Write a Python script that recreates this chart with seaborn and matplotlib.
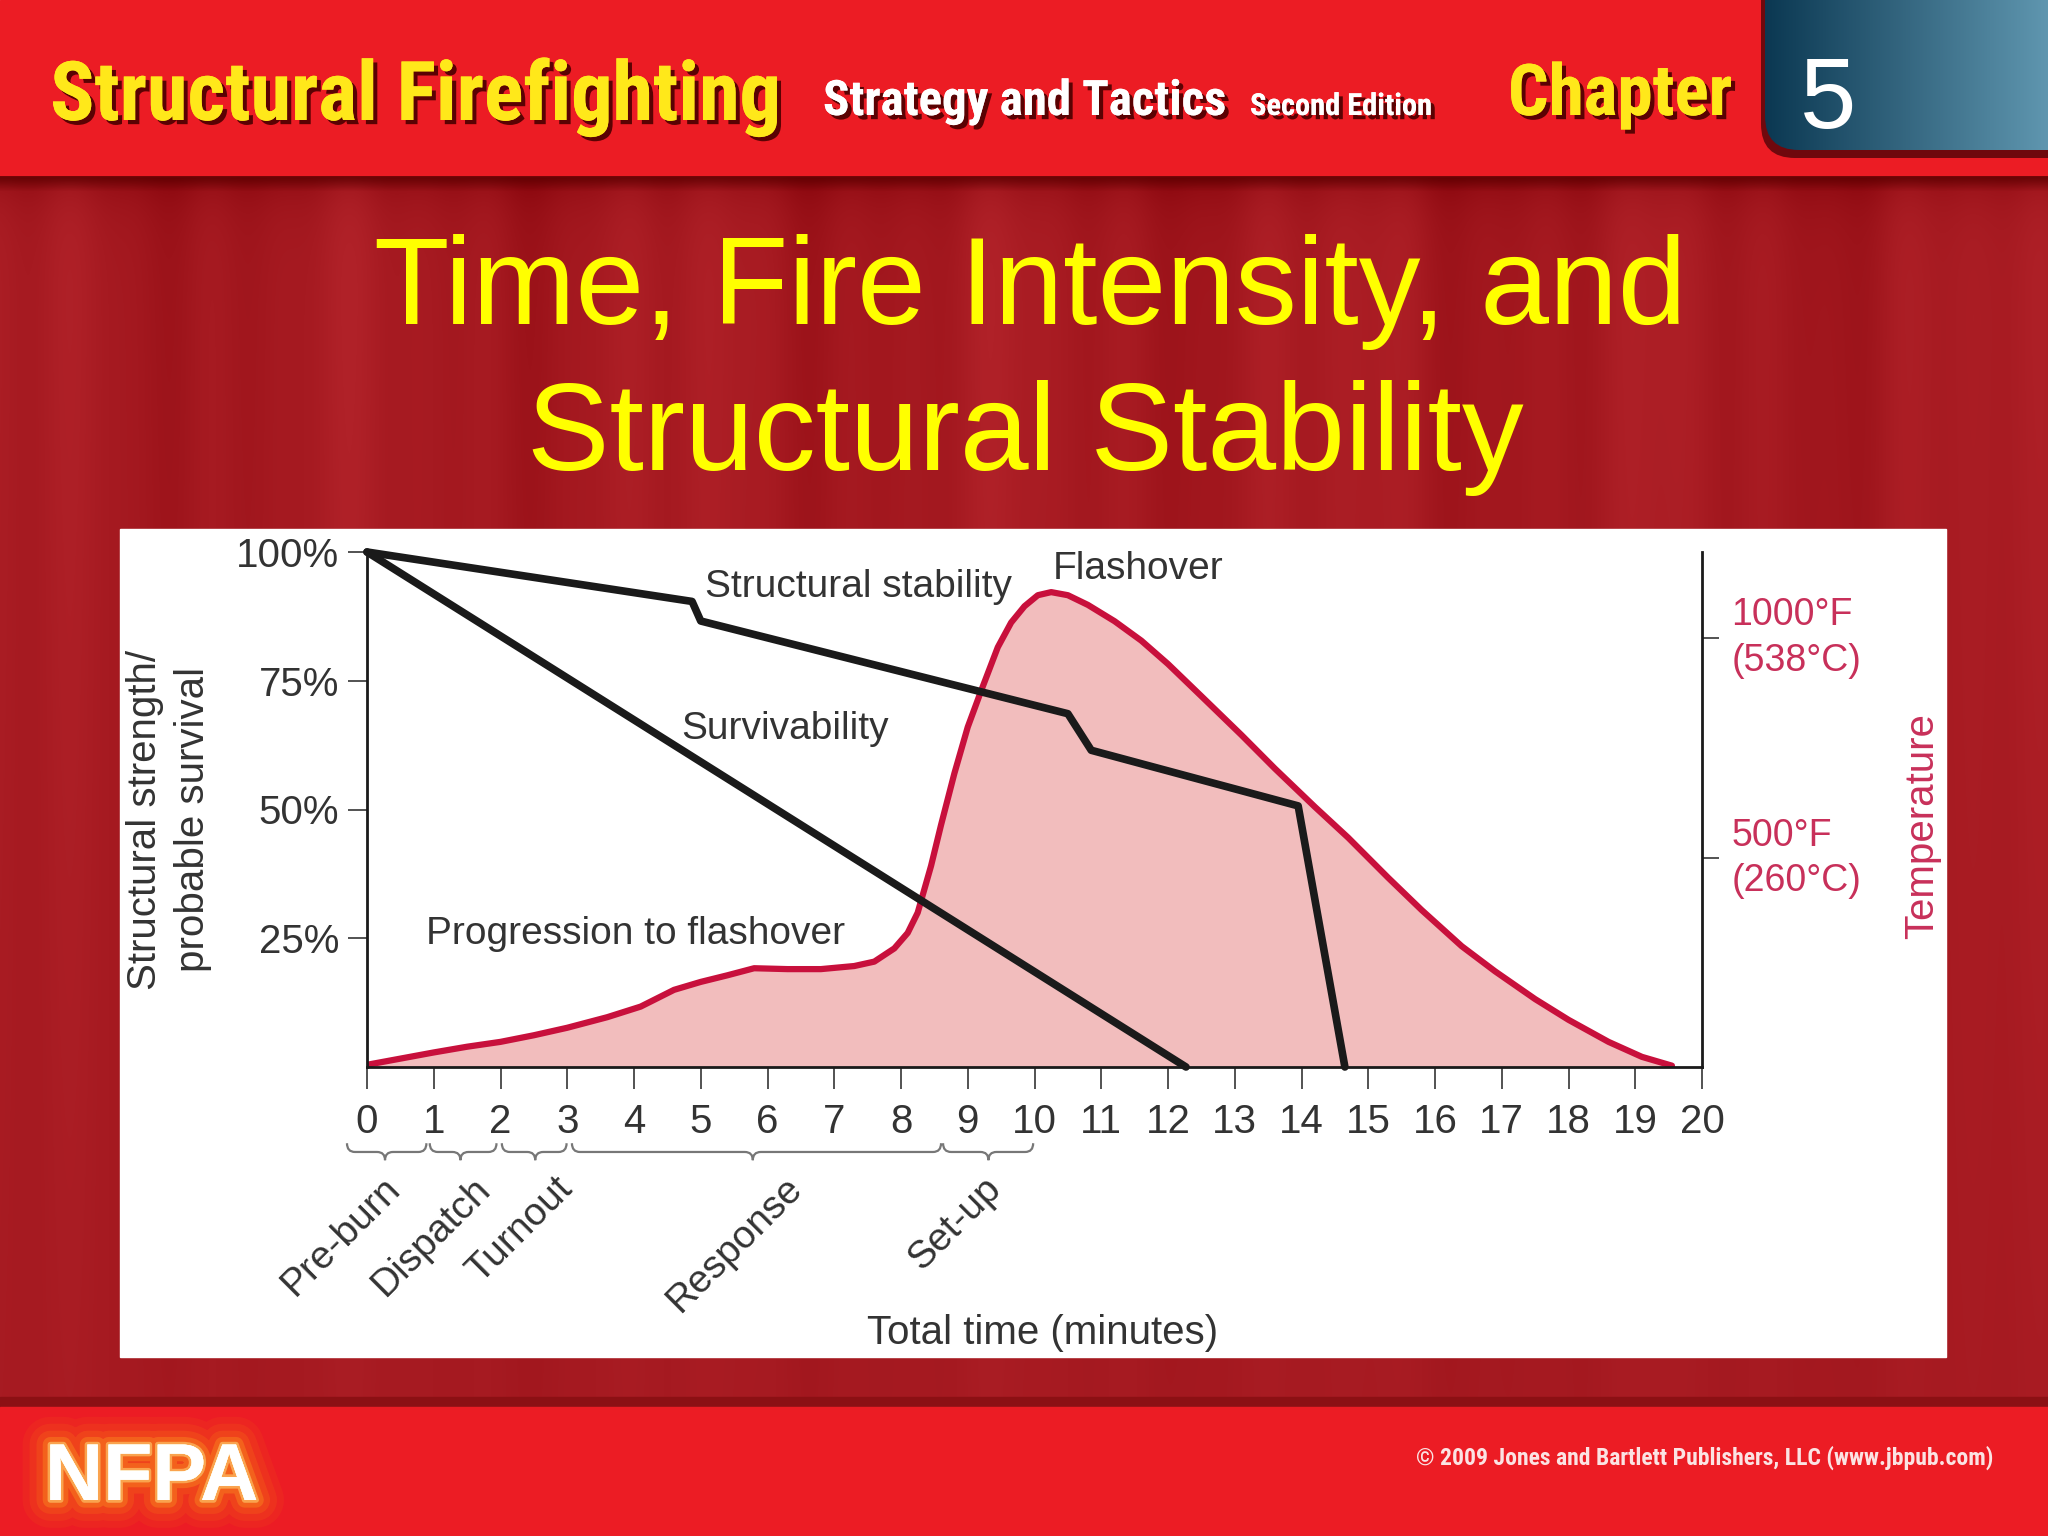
import numpy as np
import matplotlib
matplotlib.use('Agg')
import matplotlib.pyplot as plt
import matplotlib.patheffects as pe
from matplotlib.patches import Rectangle, FancyBboxPatch, PathPatch
from matplotlib.path import Path
from matplotlib.transforms import blended_transform_factory
from matplotlib import font_manager
import seaborn as sns

# ---- data ----
minutes = list(range(0, 21))
pct_ticks = [25, 50, 75, 100]
temp_ticks = [500, 1000]
temp_labels = ['500°F\n(260°C)', '1000°F\n(538°C)']

stability_t = [0, 4.87, 5.0, 10.5, 10.85, 13.95, 14.65]
stability_pct = [100, 90.4, 86.6, 68.6, 61.5, 50.7, 0]

surv_t = [0, 12.27]
surv_pct = [100, 0]

fire_t = [0, 0.5, 1.0, 1.5, 2.0, 2.5, 3.0, 3.6, 4.1, 4.6, 5.0, 5.4, 5.8, 6.3,
          6.8, 7.3, 7.6, 7.9, 8.1, 8.25, 8.45, 8.6, 8.8, 9.0, 9.2, 9.45, 9.65,
          9.85, 10.05, 10.25, 10.5, 10.8, 11.2, 11.6, 12.0, 12.5, 13.1, 13.6,
          14.2, 14.7, 15.3, 15.8, 16.4, 16.9, 17.5, 18.0, 18.6, 19.1, 19.55]
fire_temp_f = [32, 46, 60, 73, 84, 99, 116, 140, 164, 202, 220, 235, 251, 249,
               249, 256, 266, 296, 331, 377, 483, 576, 693, 798, 880, 979, 1035,
               1072, 1097, 1104, 1097, 1075, 1038, 994, 941, 868, 780, 704,
               617, 547, 456, 383, 301, 244, 181, 134, 84, 50, 30]

phase_names = ['Pre-burn', 'Dispatch', 'Turnout', 'Response', 'Set-up']
phase_start = [-0.30, 0.94, 2.02, 3.07, 8.63]
phase_end = [0.89, 1.94, 2.99, 8.60, 9.98]
phase_tip = [0.27, 1.40, 2.52, 5.78, 9.31]
phase_label_x = [0.42, 1.77, 3.00, 6.44, 9.41]

TEMP_MIN, TEMP_MAX = 27, 1195

sns.set_style('white')
plt.rcParams['font.family'] = ['Liberation Sans', 'DejaVu Sans']

names = {f.name for f in font_manager.fontManager.ttflist}
narrow = next((n for n in ['Liberation Sans Narrow', 'Roboto Condensed',
                           'Open Sans Condensed', 'DejaVu Sans Condensed']
               if n in names), 'Liberation Sans')

W, H = 2048, 1536
fig = plt.figure(figsize=(20.48, 15.36), dpi=100)
bg = fig.add_axes([0, 0, 1, 1], zorder=0)
bg.axis('off')

# slide body with curtain-like streaks
xx = np.linspace(0, 1, W)
yy = np.linspace(0, 1, 240)[:, None]
streak = (0.5 * np.sin(2 * np.pi * (xx * 6.3 + 0.15))
          + 0.3 * np.sin(2 * np.pi * (xx * 15.7 + 0.6))
          + 0.2 * np.sin(2 * np.pi * (xx * 29 + 0.3)))
shade = streak[None, :] * (1 - 0.7 * yy) * 12 - 20 * np.exp(-yy / 0.02)
base = np.array([166, 26, 33])
body = np.clip(base + shade[..., None] * np.array([1.0, 0.7, 0.7]), 0, 255) / 255
bg.imshow(body, extent=(0, W, 1400, 176), aspect='auto',
          interpolation='bilinear', zorder=0)

# header band
bg.add_patch(Rectangle((0, 0), W, 176, color='#EC1C24', zorder=1))
sh = np.zeros((16, 1, 4))
sh[..., 0] = 0.35
sh[..., 3] = np.linspace(0.8, 0, 16)[:, None]
bg.imshow(sh, extent=(0, W, 192, 176), aspect='auto', zorder=1)

# chapter box
bg.add_patch(FancyBboxPatch((1761, -60), 400, 218,
                            boxstyle='round,pad=0,rounding_size=34',
                            fc='#3a0004', ec='none', alpha=0.7, zorder=2))
box = FancyBboxPatch((1765, -60), 400, 210,
                     boxstyle='round,pad=0,rounding_size=34',
                     fc='none', ec='none', zorder=3)
bg.add_patch(box)
gx = np.linspace(0, 1, 256)[:, None]
c0 = np.array([11, 56, 82]) / 255
c1 = np.array([95, 150, 175]) / 255
grad = (c0 + (c1 - c0) * gx)[None, :, :]
im = bg.imshow(grad, extent=(1765, W, 150, 0), aspect='auto', zorder=3)
im.set_clip_path(box)

# footer
bg.add_patch(Rectangle((0, 1397), W, 11, color='#8C1014', zorder=1))
bg.add_patch(Rectangle((0, 1407), W, 129, color='#EC1C24', zorder=1))

# white panel behind the chart
bg.add_patch(Rectangle((120, 529), 1826, 828, color='white', zorder=2))

bg.set_xlim(0, W)
bg.set_ylim(H, 0)

renderer = fig.canvas.get_renderer()


def fit(txt, target_w, max_size):
    w = txt.get_window_extent(renderer).width
    txt.set_fontsize(min(max_size, txt.get_fontsize() * target_w / w))


shadow = [pe.withSimplePatchShadow(offset=(3, -3), shadow_rgbFace='#4a0000',
                                   alpha=0.9), pe.Normal()]
hdr = [('Structural Firefighting', 50, 120, 72, 731, '#FFE81A'),
       ('Strategy and Tactics', 823, 115, 47, 403, 'white'),
       ('Second Edition', 1250, 115, 29, 182, 'white'),
       ('Chapter', 1508, 115, 57, 224, '#FFE81A')]
for s, x, y, mx, tw, col in hdr:
    t = bg.text(x, y, s, fontsize=mx, color=col, fontweight='bold',
                family=[narrow, 'DejaVu Sans'], ha='left', va='baseline',
                path_effects=shadow, zorder=5)
    fit(t, tw, mx)

bg.text(1800, 128, '5', fontsize=73, color='white', ha='left', va='baseline',
        zorder=5)

bg.text(1030, 324, 'Time, Fire Intensity, and', fontsize=89, color='#FFFF00',
        ha='center', va='baseline', zorder=5)
bg.text(1025, 470, 'Structural Stability', fontsize=89, color='#FFFF00',
        ha='center', va='baseline', zorder=5)

glow = [pe.withStroke(linewidth=40, foreground='#F46A10', alpha=0.12),
        pe.withStroke(linewidth=30, foreground='#F77F10', alpha=0.14),
        pe.withStroke(linewidth=20, foreground='#FA9412', alpha=0.18),
        pe.withStroke(linewidth=11, foreground='#FDAA20', alpha=0.3),
        pe.withStroke(linewidth=4, foreground='#FFD070', alpha=0.6),
        pe.Normal()]
t = bg.text(45, 1500, 'NFPA', fontsize=57, color='white', fontweight='bold',
            ha='left', va='baseline', path_effects=glow, zorder=5)
fit(t, 213, 60)
t = bg.text(1416, 1465, '© 2009 Jones and Bartlett Publishers, LLC (www.jbpub.com)',
            fontsize=17, color='#FBE3E3', fontweight='bold',
            family=[narrow, 'DejaVu Sans'], ha='left', va='baseline', zorder=5)
fit(t, 582, 17)

# ---- chart ----
ax = fig.add_axes([367 / W, 1 - 1067 / H, 1335 / W, 515 / H])
ax2 = ax.twinx()
ax.set_zorder(3)
ax2.set_zorder(2)
ax.patch.set_visible(False)
ax2.patch.set_visible(False)

ax2.fill_between(fire_t, fire_temp_f, TEMP_MIN, color='#F2BDBD', lw=0, zorder=1)
sns.lineplot(x=fire_t, y=fire_temp_f, ax=ax2, color='#C8103C', lw=4.5,
             sort=False, estimator=None, zorder=2)

sns.lineplot(x=surv_t, y=surv_pct, ax=ax, color='#1a1a1a', lw=5.5,
             sort=False, estimator=None, clip_on=False)
sns.lineplot(x=stability_t, y=stability_pct, ax=ax, color='#1a1a1a', lw=5.5,
             sort=False, estimator=None, clip_on=False)

ax.set_xlim(0, 20)
ax.set_ylim(0, 100)
ax2.set_ylim(TEMP_MIN, TEMP_MAX)

for a in (ax, ax2):
    for sp in a.spines.values():
        sp.set_visible(False)
ax.spines['left'].set_visible(True)
ax.spines['bottom'].set_visible(True)
ax2.spines['right'].set_visible(True)
for sp in (ax.spines['left'], ax.spines['bottom'], ax2.spines['right']):
    sp.set_color('#1a1a1a')
    sp.set_linewidth(2)

ax.set_xticks(minutes)
ax.set_xticklabels([str(m) for m in minutes])
ax.tick_params(axis='x', direction='out', length=16, width=1.3, color='#444',
               pad=10, labelsize=29, labelcolor='#333', bottom=True)
ax.set_yticks(pct_ticks)
ax.set_yticklabels([f'{p}%' for p in pct_ticks])
ax.tick_params(axis='y', direction='out', length=14, width=1.3, color='#444',
               pad=6, labelsize=29, labelcolor='#333', left=True)
ax2.set_yticks(temp_ticks)
ax2.set_yticklabels(temp_labels)
ax2.tick_params(axis='y', direction='out', length=12, width=1.3, color='#444',
                pad=9, labelsize=27, labelcolor='#C8305A', right=True)
for lab in ax2.get_yticklabels():
    lab.set_va('center')
    lab.set_linespacing(1.35)

ax.set_ylabel('Structural strength/\nprobable survival', fontsize=29,
              color='#333', linespacing=1.35)
ax.yaxis.set_label_coords(-0.116, 0.48)
ax2.set_ylabel('Temperature', fontsize=29, color='#C8305A')
ax2.yaxis.set_label_coords(1.151, 0.468)
ax.set_xlabel('Total time (minutes)', fontsize=29, color='#333')
ax.xaxis.set_label_coords(0.506, -0.48)

ax.text(5.07, 91.3, 'Structural stability', fontsize=28, color='#333',
        ha='left', va='baseline')
ax.text(10.27, 94.8, 'Flashover', fontsize=28, color='#333',
        ha='left', va='baseline')
ax.text(4.71, 63.7, 'Survivability', fontsize=28, color='#333',
        ha='left', va='baseline')
ax.text(0.88, 23.9, 'Progression to flashover', fontsize=28, color='#333',
        ha='left', va='baseline')

# phase braces below the time axis
trans = blended_transform_factory(ax.transData, ax.transAxes)
y_top, y_mid, y_tip, r = -0.148, -0.165, -0.181, 0.12
for name, x0, x1, xt, lx in zip(phase_names, phase_start, phase_end,
                                phase_tip, phase_label_x):
    verts = [(x0, y_top), (x0, y_mid), (x0 + r, y_mid),
             (xt - r, y_mid), (xt, y_mid), (xt, y_tip),
             (xt, y_mid), (xt + r, y_mid),
             (x1 - r, y_mid), (x1, y_mid), (x1, y_top)]
    codes = [Path.MOVETO, Path.CURVE3, Path.CURVE3,
             Path.LINETO, Path.CURVE3, Path.CURVE3,
             Path.CURVE3, Path.CURVE3,
             Path.LINETO, Path.CURVE3, Path.CURVE3]
    ax.add_patch(PathPatch(Path(verts, codes), transform=trans, fill=False,
                           ec='#777', lw=1.6, clip_on=False))
    ax.text(lx, -0.225, name, transform=trans, fontsize=28, color='#333',
            rotation=45, rotation_mode='anchor', ha='right', va='center')

fig.savefig('out.png', dpi=100)
